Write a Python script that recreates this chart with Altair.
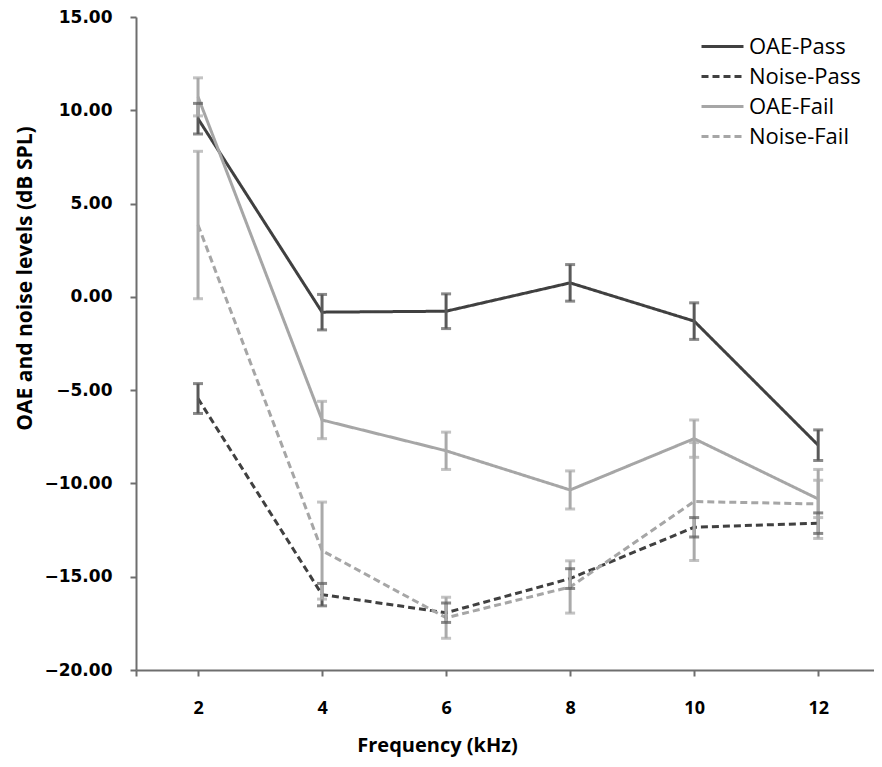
import altair as alt
import pandas as pd

freqs = [2, 4, 6, 8, 10, 12]
series_names = ["OAE-Pass", "Noise-Pass", "OAE-Fail", "Noise-Fail"]

oae_pass = [9.55, -0.82, -0.77, 0.75, -1.30, -7.95]
oae_pass_err = [0.82, 0.95, 0.93, 0.98, 0.98, 0.82]
noise_pass = [-5.45, -15.96, -16.93, -15.10, -12.35, -12.13]
noise_pass_err = [0.80, 0.60, 0.52, 0.53, 0.52, 0.55]
oae_fail = [10.72, -6.60, -8.25, -10.35, -7.60, -10.83]
oae_fail_err = [1.02, 1.00, 1.00, 1.02, 1.00, 1.00]
noise_fail = [3.85, -13.60, -17.20, -15.55, -10.97, -11.10]
noise_fail_err = [3.95, 2.60, 1.10, 1.40, 3.16, 1.85]

y_ticks = [-20, -15, -10, -5, 0, 5, 10, 15]
x_ticks = [1, 2, 4, 6, 8, 10, 12]

rows = []
for name, means, errs in [
    ("OAE-Pass", oae_pass, oae_pass_err),
    ("Noise-Pass", noise_pass, noise_pass_err),
    ("OAE-Fail", oae_fail, oae_fail_err),
    ("Noise-Fail", noise_fail, noise_fail_err),
]:
    for f, m, e in zip(freqs, means, errs):
        rows.append({"freq": f, "series": name, "mean": m, "lo": m - e, "hi": m + e})
df = pd.DataFrame(rows)

dark = "#404040"
dark_err = "#595959"
light = "#a6a6a6"
light_err = "#aaaaaa"

x_enc = alt.X(
    "freq:Q",
    scale=alt.Scale(domain=[1, 12.9], nice=False, zero=False),
    axis=alt.Axis(
        values=x_ticks,
        format="d",
        labelExpr="datum.value == 1 ? '' : datum.label",
        title="Frequency (kHz)",
        titleX=301,
        titleY=75,
        titleAlign="center",
        titleBaseline="middle",
        labelFont="Open Sans",
        labelFontSize=18,
        labelFontWeight="bold",
        labelPadding=23,
        titleFont="Open Sans",
        titleFontSize=20,
        titleFontWeight="bold",
    ),
)

y_scale = alt.Scale(domain=[-20, 15], nice=False, zero=False)
y_axis = alt.Axis(
    values=y_ticks,
    format=".2f",
    title="OAE and noise levels (dB SPL)",
    titleX=-111,
    titleY=261,
    titleAngle=270,
    titleAlign="center",
    titleBaseline="middle",
    labelFont="DejaVu Sans",
    labelFontSize=17,
    labelFontWeight="bold",
    labelPadding=18,
    titleFont="Open Sans",
    titleFontSize=21,
    titleFontWeight="bold",
)

base = alt.Chart(df)

lines = base.mark_line(strokeWidth=3).encode(
    x=x_enc,
    y=alt.Y("mean:Q", scale=y_scale, axis=y_axis),
    color=alt.Color(
        "series:N",
        scale=alt.Scale(domain=series_names, range=[dark, dark, light, light]),
        legend=alt.Legend(title=None),
    ),
    strokeDash=alt.StrokeDash(
        "series:N",
        scale=alt.Scale(domain=series_names, range=[[1, 0], [7, 4], [1, 0], [7, 4]]),
        legend=alt.Legend(title=None),
    ),
)

err_color = alt.condition(
    "datum.series == 'OAE-Pass' || datum.series == 'Noise-Pass'",
    alt.value(dark_err),
    alt.value(light_err),
)

rules = base.mark_rule(strokeWidth=3).encode(
    x="freq:Q",
    y="lo:Q",
    y2="hi:Q",
    color=err_color,
)

caps_lo = base.mark_tick(orient="horizontal", size=10, thickness=3).encode(
    x="freq:Q",
    y="lo:Q",
    color=err_color,
)
caps_hi = base.mark_tick(orient="horizontal", size=10, thickness=3).encode(
    x="freq:Q",
    y="hi:Q",
    color=err_color,
)

chart = (
    alt.layer(lines, rules, caps_lo, caps_hi)
    .properties(
        width=738,
        height=653,
        autosize=alt.AutoSizeParams(type="none"),
        padding={"left": 128, "top": 9, "right": 0, "bottom": 88},
    )
    .configure_view(stroke=None)
    .configure_axis(
        grid=False,
        domainColor="#6e6e6e",
        domainWidth=2,
        tickColor="#6e6e6e",
        tickWidth=2,
        tickSize=6,
        labelColor="black",
        titleColor="black",
    )
    .configure_legend(
        orient="none",
        legendX=571,
        legendY=14,
        symbolType="M-1.5,0H1.5",
        symbolSize=784,
        symbolStrokeWidth=3,
        labelFont="Open Sans",
        labelFontSize=22,
        labelColor="black",
        labelOffset=11,
        rowPadding=3,
        padding=0,
    )
)

chart.save("out.html", embed_options={"renderer": "svg", "actions": False})
